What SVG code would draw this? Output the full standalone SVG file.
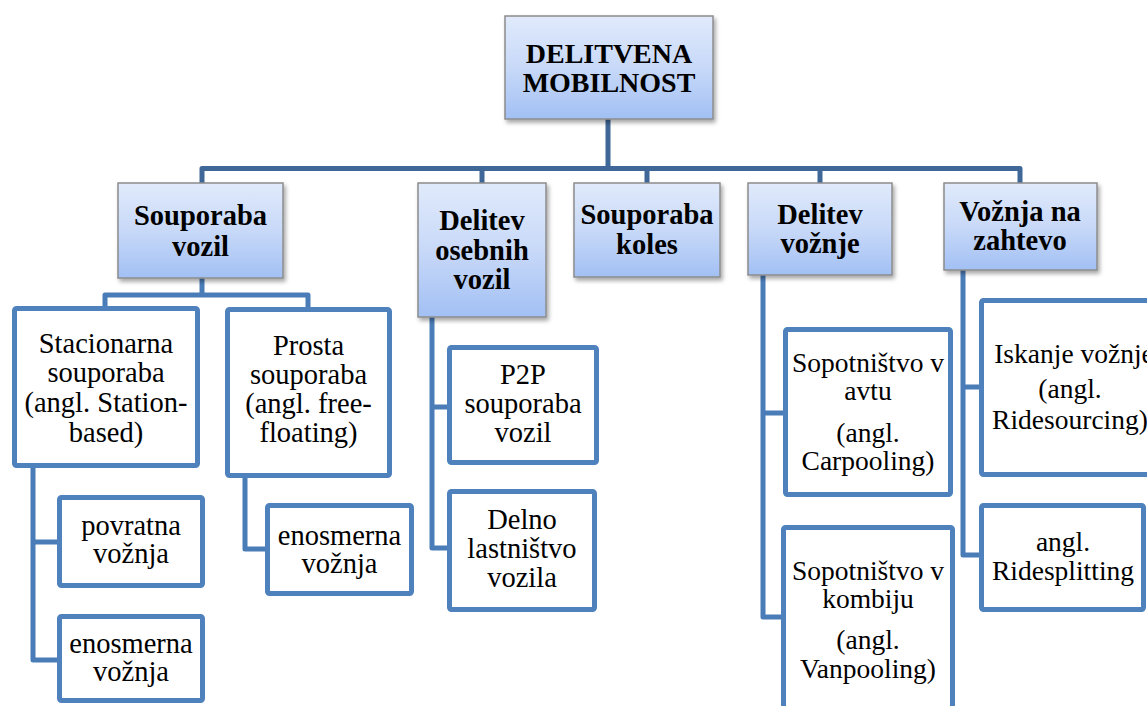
<svg xmlns="http://www.w3.org/2000/svg" width="1147" height="706" viewBox="0 0 1147 706">
<defs>
<linearGradient id="g" x1="0" y1="0" x2="0" y2="1">
<stop offset="0" stop-color="#e0eafb"/>
<stop offset="0.5" stop-color="#c8d9f8"/>
<stop offset="1" stop-color="#a2c0f4"/>
</linearGradient>
<filter id="sh" x="-10%" y="-10%" width="130%" height="130%">
<feDropShadow dx="2" dy="3" stdDeviation="2" flood-color="#000" flood-opacity="0.35"/>
</filter>
</defs>
<style>
.hd{fill:url(#g);stroke:#8c8c8c;stroke-width:1.5;filter:url(#sh)}
.bx{fill:#fff;stroke:#4f81bd;stroke-width:5}
.c1{fill:none;stroke:#3f6797;stroke-width:5;stroke-linejoin:round}
.c2{fill:none;stroke:#4a7cb8;stroke-width:5;stroke-linejoin:round}
text{font-family:'Liberation Serif','Times New Roman',Tinos,'DejaVu Serif',serif;fill:#000;text-anchor:middle}
.b{font-weight:bold;font-size:28.5px}
.t{font-size:28.5px}
.s{font-size:27.5px}
</style>
<rect width="1147" height="706" fill="#fff"/>
<g id="connectors">
<path class="c1" d="M608,119 V168.5"/>
<path class="c1" d="M202,183 V168.5 H1020 V183"/>
<path class="c1" d="M482,168.5 V183 M647,168.5 V183 M820,168.5 V183"/>
<path class="c2" d="M202,278 V295 H105 V306 M202,295 H308 V307"/>
<path class="c2" d="M33,468 V660 H57 M33,542 H57"/>
<path class="c2" d="M245,478 V549 H265"/>
<path class="c2" d="M432,317 V548 H447 M432,407 H447"/>
<path class="c2" d="M763,275 V617 H781 M763,413 H783"/>
<path class="c2" d="M963,270 V555 H979 M963,387 H979"/>
</g>
<g id="n-root">
<rect class="hd" x="505" y="16" width="208" height="103"/>
<text class="b" x="609" y="63" style="font-size:28px">DELITVENA</text>
<text class="b" x="609" y="92" style="font-size:28px">MOBILNOST</text>
</g>
<g id="n-souporaba-vozil">
<rect class="hd" x="118" y="183" width="165" height="95"/>
<text class="b" x="200.5" y="225">Souporaba</text>
<text class="b" x="200.5" y="256">vozil</text>
</g>
<g id="n-delitev-osebnih">
<rect class="hd" x="418" y="183" width="128" height="134"/>
<text class="b" x="482" y="230">Delitev</text>
<text class="b" x="482" y="260">osebnih</text>
<text class="b" x="482" y="289">vozil</text>
</g>
<g id="n-souporaba-koles">
<rect class="hd" x="574" y="183" width="146" height="94"/>
<text class="b" x="647" y="224">Souporaba</text>
<text class="b" x="647" y="254">koles</text>
</g>
<g id="n-delitev-voznje">
<rect class="hd" x="748" y="183" width="144" height="92"/>
<text class="b" x="820" y="224">Delitev</text>
<text class="b" x="820" y="253">vožnje</text>
</g>
<g id="n-voznja-na-zahtevo">
<rect class="hd" x="944" y="183" width="153" height="87"/>
<text class="b" x="1020" y="221">Vožnja na</text>
<text class="b" x="1020" y="250">zahtevo</text>
</g>
<g id="n-stacionarna">
<rect class="bx" x="14.5" y="308.5" width="183" height="157" rx="2"/>
<text class="t" x="106" y="353">Stacionarna</text>
<text class="t" x="106" y="382">souporaba</text>
<text class="t" x="106" y="412">(angl. Station-</text>
<text class="t" x="106" y="442">based)</text>
</g>
<g id="n-prosta">
<rect class="bx" x="227.5" y="309.5" width="162" height="166" rx="2"/>
<text class="t" x="308.5" y="355">Prosta</text>
<text class="t" x="308.5" y="384">souporaba</text>
<text class="t" x="308.5" y="413">(angl. free-</text>
<text class="t" x="308.5" y="442">floating)</text>
</g>
<g id="n-povratna">
<rect class="bx" x="59.5" y="497.5" width="143" height="88" rx="2"/>
<text class="t" x="131" y="535">povratna</text>
<text class="t" x="131" y="563">vožnja</text>
</g>
<g id="n-enosmerna-1">
<rect class="bx" x="59.5" y="616.5" width="143" height="84" rx="2"/>
<text class="t" x="131" y="653">enosmerna</text>
<text class="t" x="131" y="681">vožnja</text>
</g>
<g id="n-enosmerna-2">
<rect class="bx" x="267.5" y="505.5" width="144" height="88" rx="2"/>
<text class="t" x="339.5" y="545">enosmerna</text>
<text class="t" x="339.5" y="573">vožnja</text>
</g>
<g id="n-p2p">
<rect class="bx" x="449.5" y="347.5" width="147" height="115" rx="2"/>
<text class="t" x="523" y="384">P2P</text>
<text class="t" x="523" y="413">souporaba</text>
<text class="t" x="523" y="442">vozil</text>
</g>
<g id="n-delno">
<rect class="bx" x="449.5" y="491.5" width="145" height="118" rx="2"/>
<text class="t" x="522" y="529">Delno</text>
<text class="t" x="522" y="558">lastništvo</text>
<text class="t" x="522" y="587">vozila</text>
</g>
<g id="n-carpooling">
<rect class="bx" x="785.5" y="329.5" width="165" height="165" rx="2"/>
<text class="s" x="868" y="372">Sopotništvo v</text>
<text class="s" x="868" y="400">avtu</text>
<text class="s" x="868" y="442">(angl.</text>
<text class="s" x="868" y="470">Carpooling)</text>
</g>
<g id="n-vanpooling">
<rect class="bx" x="783.5" y="527.5" width="169" height="200" rx="2"/>
<text class="s" x="868" y="580">Sopotništvo v</text>
<text class="s" x="868" y="608">kombiju</text>
<text class="s" x="868" y="649">(angl.</text>
<text class="s" x="868" y="678">Vanpooling)</text>
</g>
<g id="n-ridesourcing">
<rect class="bx" x="981.5" y="300.5" width="185" height="174" rx="2"/>
<text class="s" x="1074" y="363">Iskanje vožnje</text>
<text class="s" x="1070" y="398">(angl.</text>
<text class="s" x="1070" y="429">Ridesourcing)</text>
</g>
<g id="n-ridesplitting">
<rect class="bx" x="981.5" y="505.5" width="162" height="104" rx="2"/>
<text class="s" x="1063" y="551">angl.</text>
<text class="s" x="1063" y="580">Ridesplitting</text>
</g>
</svg>
